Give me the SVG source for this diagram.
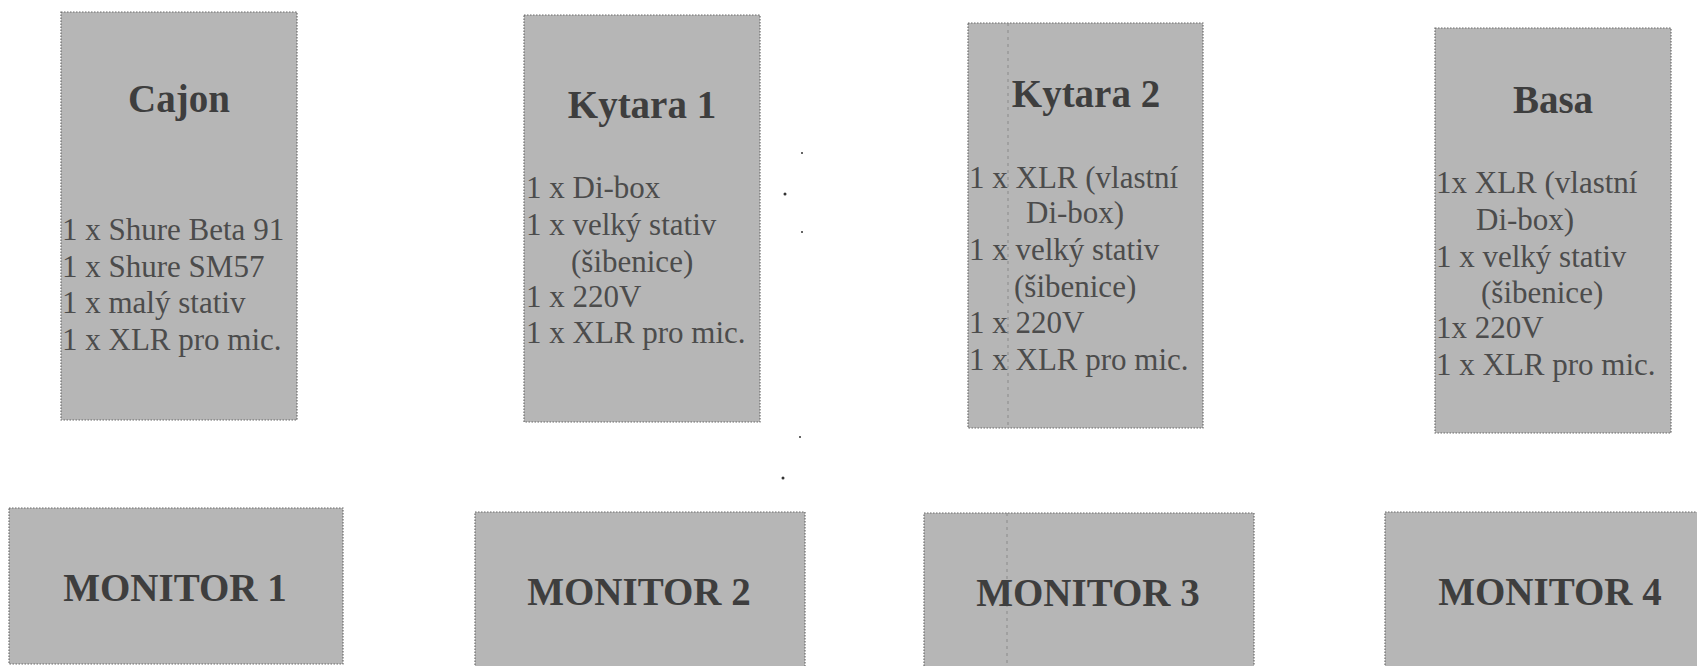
<svg xmlns="http://www.w3.org/2000/svg" width="1697" height="666" viewBox="0 0 1697 666">
<style>
.box{fill:#b6b6b6;stroke:#6a6a6a;stroke-width:1.2;stroke-dasharray:1.5 1.5}
.title{font-family:"Liberation Serif","Times New Roman",serif;font-weight:bold;font-size:39px;fill:#3e3e3e;text-anchor:middle}
.body{font-family:"Liberation Serif","Times New Roman",serif;font-size:31px;fill:#4c4c4c}
.fold{stroke:#8a8a8a;stroke-width:1;stroke-dasharray:3 4;fill:none}
.speck{fill:#333}
</style>
<rect width="1697" height="666" fill="#ffffff"/>
<g id="cajon">
<rect class="box" x="61" y="12" width="236" height="408"/>
<text class="title" x="179" y="112">Cajon</text>
<text class="body" x="62" y="240">1 x Shure Beta 91</text>
<text class="body" x="62" y="277">1 x Shure SM57</text>
<text class="body" x="62" y="313">1 x malý stativ</text>
<text class="body" x="62" y="350">1 x XLR pro mic.</text>
</g>
<g id="kytara1">
<rect class="box" x="524" y="15" width="236" height="407"/>
<text class="title" x="642" y="118">Kytara 1</text>
<text class="body" x="526" y="198">1 x Di-box</text>
<text class="body" x="526" y="235">1 x velký stativ</text>
<text class="body" x="571" y="272">(šibenice)</text>
<text class="body" x="526" y="307">1 x 220V</text>
<text class="body" x="526" y="343">1 x XLR pro mic.</text>
</g>
<g id="kytara2">
<rect class="box" x="968" y="23" width="235" height="405"/>
<line class="fold" x1="1008" y1="23" x2="1008" y2="428"/>
<text class="title" x="1086" y="107">Kytara 2</text>
<text class="body" x="969" y="188">1 x XLR (vlastní</text>
<text class="body" x="1026" y="223">Di-box)</text>
<text class="body" x="969" y="260">1 x velký stativ</text>
<text class="body" x="1014" y="297">(šibenice)</text>
<text class="body" x="969" y="333">1 x 220V</text>
<text class="body" x="969" y="370">1 x XLR pro mic.</text>
</g>
<g id="basa">
<rect class="box" x="1435" y="28" width="236" height="405"/>
<text class="title" x="1553" y="113">Basa</text>
<text class="body" x="1436" y="193">1x XLR (vlastní</text>
<text class="body" x="1476" y="230">Di-box)</text>
<text class="body" x="1436" y="267">1 x velký stativ</text>
<text class="body" x="1481" y="303">(šibenice)</text>
<text class="body" x="1436" y="338">1x 220V</text>
<text class="body" x="1436" y="375">1 x XLR pro mic.</text>
</g>
<g id="monitor1">
<rect class="box" x="9" y="508" width="334" height="156"/>
<text class="title" x="175" y="601">MONITOR 1</text>
</g>
<g id="monitor2">
<rect class="box" x="475" y="512" width="330" height="156"/>
<text class="title" x="639" y="605">MONITOR 2</text>
</g>
<g id="monitor3">
<rect class="box" x="924" y="513" width="330" height="156"/>
<line class="fold" x1="1007" y1="513" x2="1007" y2="666"/>
<text class="title" x="1088" y="606">MONITOR 3</text>
</g>
<g id="monitor4">
<rect class="box" x="1385" y="512" width="330" height="156"/>
<text class="title" x="1550" y="605">MONITOR 4</text>
</g>
<g id="connectors"></g>
<g id="specks">
<circle class="speck" cx="802" cy="153" r="1"/>
<circle class="speck" cx="785" cy="194" r="1.5"/>
<circle class="speck" cx="802" cy="232" r="1"/>
<circle class="speck" cx="800" cy="437" r="1"/>
<circle class="speck" cx="783" cy="478" r="1.5"/>
</g>
</svg>
